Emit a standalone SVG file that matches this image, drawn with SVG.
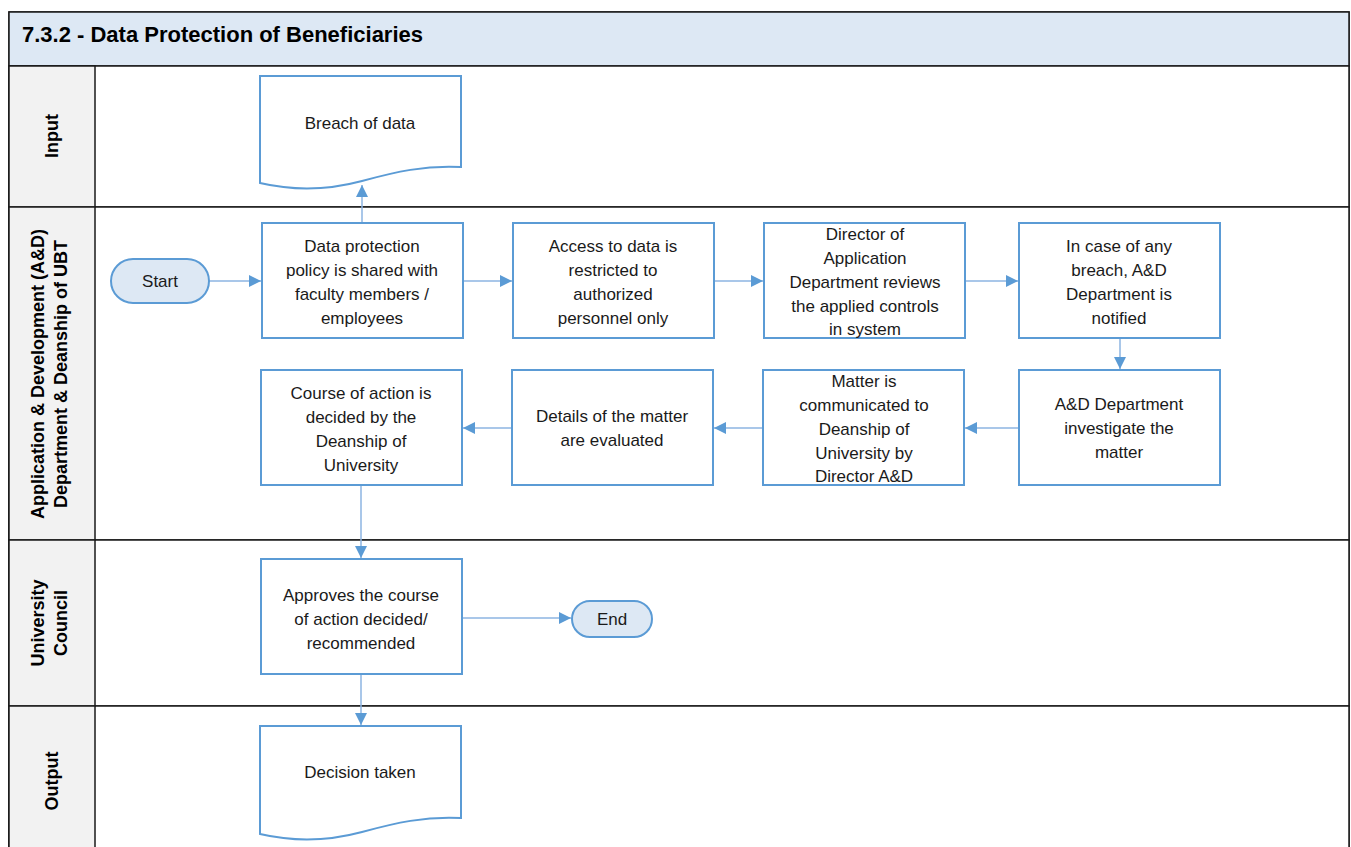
<svg xmlns="http://www.w3.org/2000/svg" width="1351" height="847" viewBox="0 0 1351 847">
  <style>
    .lane { fill: #ffffff; stroke: #1a1a1a; stroke-width: 1.5; }
    .lanehead { fill: #f2f2f2; stroke: #1a1a1a; stroke-width: 1.5; }
    .title { font-family: "Liberation Sans", Arial, sans-serif; font-weight: bold; font-size: 22px; fill: #000; }
    .lanelabel { font-family: "Liberation Sans", Arial, sans-serif; font-weight: bold; font-size: 18px; fill: #000; text-anchor: middle; }
    .box { fill: #ffffff; stroke: #5b9bd5; stroke-width: 2; }
    .term { fill: #dde8f4; stroke: #5b9bd5; stroke-width: 2; }
    .label { font-family: "Liberation Sans", Arial, sans-serif; font-size: 17px; fill: #1a1a1a; text-anchor: middle; }
    .conn { fill: none; stroke: #8db4e2; stroke-width: 1.5; }
  </style>
  <defs>
    <marker id="arrow" viewBox="0 0 12 12" refX="12" refY="6" markerWidth="12" markerHeight="12" markerUnits="userSpaceOnUse" orient="auto">
      <path d="M0,0 L12,6 L0,12 Z" fill="#5b9bd5"/>
    </marker>
  </defs>

  <!-- pool frame and title -->
  <rect x="9" y="12" width="1340" height="845" fill="#ffffff" stroke="#1a1a1a" stroke-width="1.5"/>
  <rect x="9" y="12" width="1340" height="54" fill="#dde8f4" stroke="#1a1a1a" stroke-width="1.5"/>
  <text class="title" x="22" y="42">7.3.2 - Data Protection of Beneficiaries</text>

  <!-- swimlanes -->
  <g id="lanes">
    <rect class="lane" x="9" y="66" width="1340" height="141"/>
    <rect class="lane" x="9" y="207" width="1340" height="333"/>
    <rect class="lane" x="9" y="540" width="1340" height="166"/>
    <rect class="lane" x="9" y="706" width="1340" height="151"/>
    <rect class="lanehead" x="9" y="66" width="86" height="141"/>
    <rect class="lanehead" x="9" y="207" width="86" height="333"/>
    <rect class="lanehead" x="9" y="540" width="86" height="166"/>
    <rect class="lanehead" x="9" y="706" width="86" height="151"/>
    <text class="lanelabel" transform="translate(58,136) rotate(-90)">Input</text>
    <text class="lanelabel" transform="translate(44,374) rotate(-90)">Application &amp; Development (A&amp;D)</text>
    <text class="lanelabel" transform="translate(67,374) rotate(-90)">Department &amp; Deanship of UBT</text>
    <text class="lanelabel" transform="translate(44,623) rotate(-90)">University</text>
    <text class="lanelabel" transform="translate(67,623) rotate(-90)">Council</text>
    <text class="lanelabel" transform="translate(58,781) rotate(-90)">Output</text>
  </g>

  <!-- connectors -->
  <g id="connectors">
    <path class="conn" d="M362,223 V185" marker-end="url(#arrow)"/>
    <path class="conn" d="M209,281 H261" marker-end="url(#arrow)"/>
    <path class="conn" d="M463,281 H512" marker-end="url(#arrow)"/>
    <path class="conn" d="M714,281 H763" marker-end="url(#arrow)"/>
    <path class="conn" d="M965,281 H1018" marker-end="url(#arrow)"/>
    <path class="conn" d="M1120,338 V369" marker-end="url(#arrow)"/>
    <path class="conn" d="M1019,428 H965" marker-end="url(#arrow)"/>
    <path class="conn" d="M763,428 H714" marker-end="url(#arrow)"/>
    <path class="conn" d="M512,428 H463" marker-end="url(#arrow)"/>
    <path class="conn" d="M361,485 V558" marker-end="url(#arrow)"/>
    <path class="conn" d="M462,618 H571" marker-end="url(#arrow)"/>
    <path class="conn" d="M361,674 V725" marker-end="url(#arrow)"/>
  </g>

  <!-- nodes -->
  <g id="n-breach">
    <path class="box" d="M260,76 H461 V167 C425,165 395,172 362,181 C325,191 290,190 260,183 Z"/>
    <text class="label" x="360" y="129">Breach of data</text>
  </g>
  <g id="n-start">
    <rect class="term" x="111" y="259" width="98" height="44" rx="22"/>
    <text class="label" x="160" y="287">Start</text>
  </g>
  <g id="n-policy">
    <rect class="box" x="262" y="223" width="201" height="115"/>
    <text class="label" x="362" y="252">Data protection</text>
    <text class="label" x="362" y="276">policy is shared with</text>
    <text class="label" x="362" y="300">faculty members /</text>
    <text class="label" x="362" y="324">employees</text>
  </g>
  <g id="n-access">
    <rect class="box" x="513" y="223" width="201" height="115"/>
    <text class="label" x="613" y="252">Access to data is</text>
    <text class="label" x="613" y="276">restricted to</text>
    <text class="label" x="613" y="300">authorized</text>
    <text class="label" x="613" y="324">personnel only</text>
  </g>
  <g id="n-director">
    <rect class="box" x="764" y="223" width="201" height="115"/>
    <text class="label" x="865" y="240">Director of</text>
    <text class="label" x="865" y="264">Application</text>
    <text class="label" x="865" y="288">Department reviews</text>
    <text class="label" x="865" y="312">the applied controls</text>
    <text class="label" x="865" y="335">in system</text>
  </g>
  <g id="n-notify">
    <rect class="box" x="1019" y="223" width="201" height="115"/>
    <text class="label" x="1119" y="252">In case of any</text>
    <text class="label" x="1119" y="276">breach, A&amp;D</text>
    <text class="label" x="1119" y="300">Department is</text>
    <text class="label" x="1119" y="324">notified</text>
  </g>
  <g id="n-investigate">
    <rect class="box" x="1019" y="370" width="201" height="115"/>
    <text class="label" x="1119" y="410">A&amp;D Department</text>
    <text class="label" x="1119" y="434">investigate the</text>
    <text class="label" x="1119" y="458">matter</text>
  </g>
  <g id="n-communicate">
    <rect class="box" x="763" y="370" width="201" height="115"/>
    <text class="label" x="864" y="387">Matter is</text>
    <text class="label" x="864" y="411">communicated to</text>
    <text class="label" x="864" y="435">Deanship of</text>
    <text class="label" x="864" y="459">University by</text>
    <text class="label" x="864" y="482">Director A&amp;D</text>
  </g>
  <g id="n-evaluate">
    <rect class="box" x="512" y="370" width="201" height="115"/>
    <text class="label" x="612" y="422">Details of the matter</text>
    <text class="label" x="612" y="446">are evaluated</text>
  </g>
  <g id="n-course">
    <rect class="box" x="261" y="370" width="201" height="115"/>
    <text class="label" x="361" y="399">Course of action is</text>
    <text class="label" x="361" y="423">decided by the</text>
    <text class="label" x="361" y="447">Deanship of</text>
    <text class="label" x="361" y="471">University</text>
  </g>
  <g id="n-approve">
    <rect class="box" x="261" y="559" width="201" height="115"/>
    <text class="label" x="361" y="601">Approves the course</text>
    <text class="label" x="361" y="625">of action decided/</text>
    <text class="label" x="361" y="649">recommended</text>
  </g>
  <g id="n-end">
    <rect class="term" x="572" y="601" width="80" height="36" rx="18"/>
    <text class="label" x="612" y="625">End</text>
  </g>
  <g id="n-decision">
    <path class="box" d="M260,726 H461 V818 C425,816 395,823 362,832 C325,842 290,841 260,834 Z"/>
    <text class="label" x="360" y="778">Decision taken</text>
  </g>
</svg>
